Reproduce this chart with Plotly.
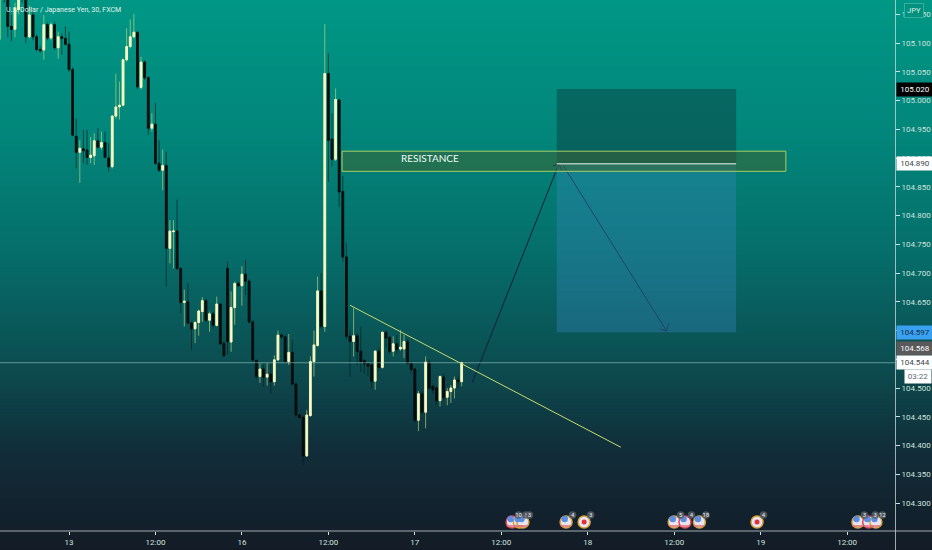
import plotly.graph_objects as go

W, H = 932, 550
first_bar = -19
bar_open = [105.20,105.24,105.18,105.129,105.124,105.158,105.20,105.19,105.111,105.149,105.111,105.089,105.088,105.132,105.109,105.132,105.092,105.111,105.108,105.098,
105.054,104.938,104.910,104.916,104.914,104.901,104.904,104.930,104.919,104.927,
104.900,104.885,104.973,104.989,104.992,105.071,105.094,105.111,105.119,105.023,
105.067,105.040,104.952,104.959,104.891,104.879,104.887,104.743,104.772,104.773,
104.708,104.649,104.650,104.613,104.603,104.614,104.633,104.652,104.618,104.629,
104.609,104.646,104.578,104.708,104.580,104.640,104.682,104.678,104.698,104.686,
104.615,104.548,104.520,104.533,104.519,104.524,104.511,104.549,104.592,104.589,
104.546,104.562,104.507,104.453,104.449,104.382,104.452,104.546,104.574,104.669,
104.607,105.047,104.933,104.898,105.001,104.842,104.728,104.590,104.581,104.591,
104.564,104.548,104.542,104.540,104.512,104.564,104.536,104.597,104.588,104.564,
104.577,104.568,104.568,104.581,104.543,104.533,104.444,104.490,104.458,104.545,
104.503,104.500,104.478,104.519,104.484,104.494,104.500,104.514,104.511]
bar_high = [105.23,105.25,105.19,105.15,105.17,105.19,105.21,105.20,105.165,105.16,105.115,105.095,105.149,105.136,105.136,105.137,105.120,105.117,105.129,105.120,
105.058,104.969,104.931,104.949,104.949,104.937,104.943,104.952,104.946,104.946,
104.926,104.975,105.047,105.033,105.073,105.126,105.141,105.151,105.120,105.076,
105.070,105.042,104.978,104.996,104.931,104.915,104.911,104.792,104.792,104.828,
104.710,104.671,104.682,104.615,104.617,104.636,104.658,104.655,104.633,104.632,
104.659,104.648,104.580,104.720,104.668,104.685,104.685,104.712,104.723,104.689,
104.618,104.549,104.543,104.540,104.543,104.543,104.557,104.600,104.595,104.592,
104.594,104.584,104.509,104.455,104.452,104.462,104.555,104.600,104.694,104.700,
105.133,105.082,104.978,105.021,105.003,104.869,104.752,104.600,104.639,104.596,
104.607,104.550,104.545,104.545,104.566,104.570,104.598,104.600,104.590,104.590,
104.593,104.601,104.593,104.585,104.545,104.535,104.495,104.495,104.555,104.550,
104.505,104.503,104.522,104.525,104.500,104.505,104.520,104.520,104.546]
bar_low = [105.106,105.17,105.110,105.103,105.110,105.15,105.17,105.100,105.108,105.105,105.085,105.083,105.071,105.105,105.105,105.088,105.073,105.080,105.096,105.050,
104.938,104.882,104.857,104.891,104.888,104.891,104.888,104.917,104.914,104.900,
104.876,104.882,104.969,104.967,104.990,105.068,105.091,105.108,105.020,105.019,
105.036,104.940,104.946,104.888,104.876,104.844,104.676,104.717,104.708,104.705,
104.630,104.607,104.611,104.566,104.578,104.591,104.615,104.615,104.598,104.605,
104.607,104.575,104.556,104.558,104.563,104.610,104.676,104.643,104.662,104.612,
104.545,104.516,104.509,104.502,104.504,104.490,104.504,104.547,104.585,104.544,
104.540,104.505,104.450,104.447,104.366,104.380,104.450,104.520,104.572,104.604,
104.598,104.859,104.885,104.895,104.815,104.720,104.585,104.520,104.555,104.540,
104.528,104.525,104.520,104.500,104.497,104.530,104.534,104.570,104.560,104.555,
104.560,104.565,104.552,104.540,104.525,104.440,104.425,104.455,104.430,104.497,
104.490,104.470,104.468,104.480,104.470,104.474,104.482,104.500,104.503]
bar_close = [105.22,105.20,105.129,105.124,105.160,105.185,105.19,105.111,105.149,105.111,105.089,105.087,105.132,105.109,105.132,105.092,105.111,105.108,105.098,105.054,
104.940,104.910,104.917,104.913,104.901,104.905,104.930,104.919,104.927,104.901,
104.885,104.973,104.989,104.992,105.071,105.094,105.111,105.119,105.024,105.067,
105.040,104.952,104.959,104.891,104.879,104.887,104.743,104.773,104.773,104.708,
104.649,104.651,104.613,104.603,104.614,104.634,104.652,104.618,104.629,104.609,
104.646,104.577,104.556,104.581,104.640,104.682,104.678,104.698,104.686,104.615,
104.549,104.520,104.533,104.519,104.524,104.511,104.549,104.592,104.589,104.546,
104.562,104.507,104.453,104.449,104.382,104.453,104.546,104.575,104.669,104.607,
105.047,104.931,104.898,105.002,104.841,104.728,104.590,104.581,104.591,104.564,
104.546,104.542,104.538,104.512,104.564,104.536,104.597,104.587,104.564,104.577,
104.567,104.571,104.581,104.543,104.532,104.444,104.490,104.458,104.545,104.500,
104.497,104.478,104.520,104.484,104.494,104.500,104.514,104.511,104.544]
assert len(bar_open) == len(bar_high) == len(bar_low) == len(bar_close)
bar_x = list(range(first_bar, first_bar + len(bar_open)))

time_ticks = [0, 24, 48, 72, 96, 120, 144, 168, 192, 216]
time_labels = ["13", "12:00", "16", "12:00", "17", "12:00", "18", "12:00", "19", "12:00"]
price_ticks = [104.30, 104.35, 104.40, 104.45, 104.50, 104.55, 104.60, 104.65, 104.70, 104.75, 104.80,
               104.85, 104.90, 104.95, 105.00, 105.05, 105.10, 105.15]

# events along the bottom
event_x = [123, 125, 126, 138, 143, 168, 171, 175, 191, 219, 222, 224]
event_ring = ["#e0465a", "#d9a23a", "#d9a23a", "#d9a23a", "#d9a23a", "#d9a23a", "#e0465a", "#d9a23a", "#d9a23a", "#d9a23a", "#e0465a", "#d9a23a"]
event_jp = [0, 0, 0, 0, 1, 0, 0, 0, 1, 0, 0, 0]
event_count = ["10", "!", "3", "4", "3", "5", "4", "18", "4", "3", "3", "12"]
event_price = 104.267

# gradient stops: fraction of height from the bottom, colour
grad_pos = [0.0, 0.18, 0.35, 0.55, 0.75, 1.0]
grad_col = ["#131b26", "#112d39", "#0b4f52", "#056f6b", "#02857a", "#009785"]

# drawings
resist_x = [75.8, 199]
resist_y = [104.877, 104.912]
target_x = [135.4, 185.2]
short_entry = 104.890
short_stop = 105.020
short_target = 104.597
trend_x = [78, 153.2]
trend_y = [104.644, 104.397]
up_x = [111.9, 136.0]
up_y = [104.509, 104.890]
up_head_x = [134.3, 136.0, 136.8]
up_head_y = [104.886, 104.890, 104.878]
down_x = [137.1, 165.9]
down_y = [104.888, 104.599]
down_head_x = [164.1, 165.9, 166.5]
down_head_y = [104.603, 104.599, 104.613]

PALE = "#cfe3df"
NAVY = "#0e1f3f"
fig = go.Figure()

# background gradient on full-page axes
fig.add_trace(go.Heatmap(
    x=[0, 1], y=grad_pos, z=[[p, p] for p in grad_pos], zmin=0, zmax=1,
    colorscale=[[p, c] for p, c in zip(grad_pos, grad_col)],
    zsmooth="best", showscale=False, hoverinfo="skip", xaxis="x", yaxis="y"))

# wicks
fig.add_trace(go.Candlestick(
    x=bar_x, open=bar_open, high=bar_high, low=bar_low, close=bar_close,
    increasing=dict(line=dict(color="rgba(205,225,130,0.6)", width=1), fillcolor="rgba(0,0,0,0)"),
    decreasing=dict(line=dict(color="rgba(5,30,30,0.65)", width=1), fillcolor="rgba(0,0,0,0)"),
    whiskerwidth=0, xaxis="x2", yaxis="y2", hoverinfo="skip"))
# bodies
body_hi = [max(o, c) for o, c in zip(bar_open, bar_close)]
body_lo = [min(o, c) for o, c in zip(bar_open, bar_close)]
fig.add_trace(go.Candlestick(
    x=bar_x, open=bar_open, high=body_hi, low=body_lo, close=bar_close,
    increasing=dict(line=dict(color="#fbfcc8", width=0.8), fillcolor="#fbfcc8"),
    decreasing=dict(line=dict(color="#020d0d", width=0.8), fillcolor="#020d0d"),
    whiskerwidth=0, xaxis="x2", yaxis="y2", hoverinfo="skip"))

# projection arrows
for xs, ys in ((up_x, up_y), (up_head_x, up_head_y), (down_x, down_y), (down_head_x, down_head_y)):
    fig.add_trace(go.Scatter(x=xs, y=ys, mode="lines", line=dict(color=NAVY, width=1),
                             xaxis="x2", yaxis="y2", hoverinfo="skip"))

# event icons
fig.add_trace(go.Scatter(x=event_x, y=[event_price] * len(event_x), mode="markers",
    marker=dict(size=12, color="#e9e4ee", line=dict(color=event_ring, width=1.5)),
    xaxis="x2", yaxis="y2", hoverinfo="skip"))
us_x = [x - 0.4 for x, j in zip(event_x, event_jp) if not j]
fig.add_trace(go.Scatter(x=us_x, y=[event_price + 0.005] * len(us_x), mode="markers",
    marker=dict(size=6.5, color="#5b8de0"), xaxis="x2", yaxis="y2", hoverinfo="skip"))
fig.add_trace(go.Scatter(x=[x + 0.3 for x in us_x], y=[event_price - 0.007] * len(us_x), mode="markers",
    marker=dict(size=7, symbol="line-ew", line=dict(color="#e0707a", width=1.5)),
    xaxis="x2", yaxis="y2", hoverinfo="skip"))
jp_x = [x for x, j in zip(event_x, event_jp) if j]
fig.add_trace(go.Scatter(x=jp_x, y=[event_price] * len(jp_x), mode="markers",
    marker=dict(size=5, color="#e0323c"), xaxis="x2", yaxis="y2", hoverinfo="skip"))
fig.add_trace(go.Scatter(x=[x + 1.8 for x in event_x], y=[event_price + 0.012] * len(event_x),
    mode="markers+text", text=event_count, textposition="middle center",
    textfont=dict(size=6, color="#e8ecef", family="Roboto"),
    marker=dict(size=7.5, color="rgba(85,90,100,0.85)"), xaxis="x2", yaxis="y2", hoverinfo="skip"))

LINE = "#a8cf62"
shapes = [
    dict(type="rect", xref="x2", yref="y2", x0=target_x[0], x1=target_x[1], y0=short_entry, y1=short_stop,
         fillcolor="rgba(15,50,55,0.40)", line_width=0),
    dict(type="rect", xref="x2", yref="y2", x0=target_x[0], x1=target_x[1], y0=short_target, y1=short_entry,
         fillcolor="rgba(55,135,190,0.36)", line_width=0),
    dict(type="rect", xref="x2", yref="y2", x0=resist_x[0], x1=resist_x[1], y0=resist_y[0], y1=resist_y[1],
         fillcolor="rgba(70,95,40,0.45)", line=dict(color=LINE, width=1)),
    dict(type="line", xref="x2", yref="y2", x0=target_x[0], x1=target_x[1], y0=short_entry, y1=short_entry,
         line=dict(color="#eef7ea", width=1)),
    dict(type="line", xref="x2", yref="y2", x0=trend_x[0], x1=trend_x[1], y0=trend_y[0], y1=trend_y[1],
         line=dict(color="#c9da6e", width=1)),
    dict(type="line", xref="paper", yref="y2", x0=0, x1=895 / W, y0=104.544, y1=104.544,
         line=dict(color="rgba(200,225,215,0.5)", width=1)),
    dict(type="line", xref="paper", yref="paper", x0=895.5 / W, x1=895.5 / W, y0=0, y1=1,
         line=dict(color="rgba(205,220,220,0.75)", width=1)),
    dict(type="line", xref="paper", yref="paper", x0=0, x1=1, y0=19 / H, y1=19 / H,
         line=dict(color="rgba(205,220,220,0.75)", width=1)),
]

def price_label(val, bg, fg):
    return dict(xref="paper", yref="y2", x=895.5 / W, y=val, xanchor="left", yanchor="middle",
                text=f"{val:.3f}", showarrow=False, bgcolor=bg, width=36, height=13, borderpad=0,
                font=dict(size=8, color=fg, family="Roboto"))

annotations = [
    dict(xref="paper", yref="paper", x=4 / W, y=1 - 10 / H, xanchor="left", yanchor="middle", showarrow=False,
         text="U.S. Dollar / Japanese Yen, 30, FXCM", font=dict(size=7, color="#e4f4ee", family="Roboto")),
    dict(xref="x2", yref="y2", x=100.2, y=104.900, text="RESISTANCE", showarrow=False,
         font=dict(size=10, color="#f0fbf4", family="Lato")),
    price_label(105.020, "#000000", "#ffffff"),
    price_label(104.890, "#ffffff", "#37474f"),
    price_label(104.597, "#3aa0f0", "#10304a"),
    price_label(104.568, "#5a5a5a", "#ffffff"),
    price_label(104.544, "#ffffff", "#37474f"),
    dict(xref="paper", yref="y2", x=1, y=104.520, xanchor="right", yanchor="middle", text="03:22", showarrow=False,
         bgcolor="#ffffff", width=26, height=13, borderpad=0, font=dict(size=8, color="#5a6a70", family="Roboto")),
    dict(xref="paper", yref="paper", x=914 / W, y=1 - 10 / H, xanchor="center", yanchor="middle", text="JPY",
         showarrow=False, bgcolor="#03907d", bordercolor="#35b09c", borderwidth=1, width=18, height=13, borderpad=0,
         font=dict(size=7.5, color="#d8f0ea", family="Roboto")),
]

tickfont = dict(size=8, color=PALE, family="Roboto")
fig.update_layout(
    width=W, height=H, margin=dict(l=0, r=0, t=0, b=0), showlegend=False,
    paper_bgcolor="#0b4f52", plot_bgcolor="rgba(0,0,0,0)",
    shapes=shapes, annotations=annotations,
    xaxis=dict(domain=[0, 1], range=[0, 1], visible=False, fixedrange=True),
    yaxis=dict(domain=[0, 1], range=[0, 1], visible=False, fixedrange=True),
    xaxis2=dict(domain=[0, 895 / W], anchor="y2", range=[-19.16, 229.3], rangeslider=dict(visible=False),
                tickmode="array", tickvals=time_ticks, ticktext=time_labels, showgrid=False, zeroline=False,
                ticks="outside", ticklen=3, tickcolor=PALE, tickfont=tickfont, showline=False),
    yaxis2=dict(domain=[19 / H, 1], anchor="x2", side="right", range=[104.2513, 105.175],
                tickmode="array", tickvals=price_ticks, tickformat=".3f", showgrid=False, zeroline=False,
                ticks="outside", ticklen=4, tickcolor=PALE, tickfont=tickfont, showline=False),
)
fig.write_html("out.html", config=dict(displayModeBar=False),
               post_script="document.body.style.margin='0';document.documentElement.style.overflow='hidden';")
